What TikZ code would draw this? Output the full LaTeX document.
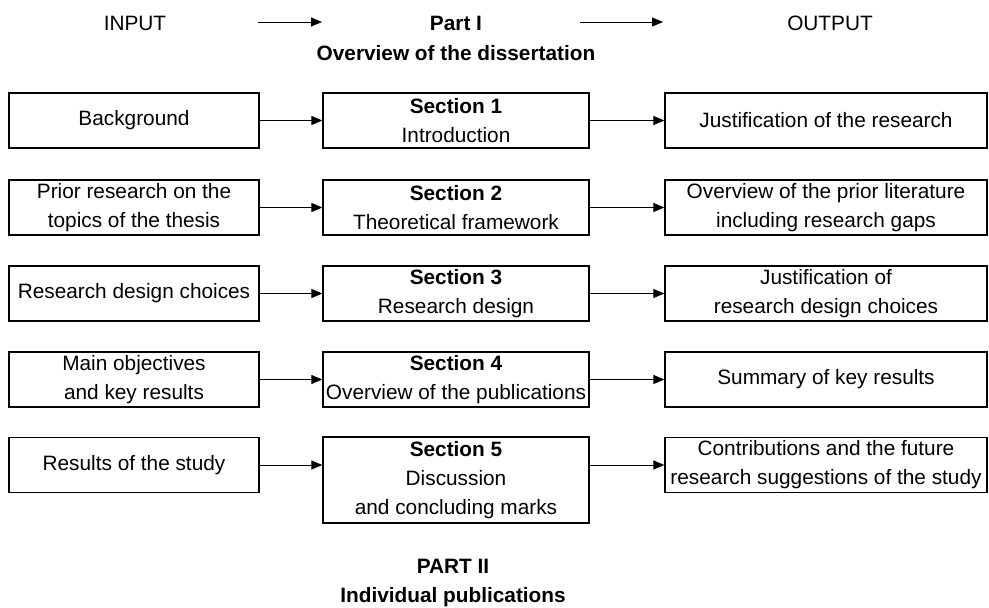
\documentclass[tikz,border=0pt]{standalone}
\usepackage{fontspec}
\setmainfont{Liberation Sans}
\usetikzlibrary{arrows.meta}
\begin{document}
\begin{tikzpicture}[x=1pt,y=-1pt,
 txt/.style={font=\fontsize{20.8}{29}\selectfont, inner sep=0pt, align=center},
 box/.style={txt, draw, line width=1.3pt},
 lbox/.style={box, minimum width=250pt, minimum height=55pt},
 mbox/.style={box, minimum width=266pt, minimum height=55pt},
 rbox/.style={box, minimum width=322pt, minimum height=55pt},
 arr/.style={line width=1pt, -{Triangle[length=11pt,width=9pt]}}
]
\useasboundingbox (0,0) rectangle (989,608);
% header
\node[txt] (inp) at (135,23) {INPUT};
\node[txt] (part1) at (456,23) {\textbf{Part I}};
\node[txt] (over) at (456,53) {\textbf{Overview of the dissertation}};
\node[txt] (outp) at (830,23) {OUTPUT};
\coordinate (ha1) at (258,22);
\coordinate (ha2) at (322,22);
\coordinate (hb1) at (580,22);
\coordinate (hb2) at (663,22);
\draw[arr] (ha1) -- (ha2);
\draw[arr] (hb1) -- (hb2);
% row 1
\node[lbox] (l1) at (134,120.5) {Background};
\node[mbox] (m1) at (456,120.5) {\textbf{Section 1}\\Introduction};
\node[rbox] (r1) at (826,120.5) {Justification of the research};
% row 2
\node[lbox] (l2) at (134,207.5) {Prior research on the\\topics of the thesis};
\node[mbox] (m2) at (456,207.5) {\textbf{Section 2}\\Theoretical framework};
\node[rbox] (r2) at (826,207.5) {Overview of the prior literature\\including research gaps};
% row 3
\node[lbox] (l3) at (134,293.5) {Research design choices};
\node[mbox] (m3) at (456,293.5) {\textbf{Section 3}\\Research design};
\node[rbox] (r3) at (826,293.5) {Justification of\\research design choices};
% row 4
\node[lbox] (l4) at (134,379.5) {Main objectives\\and key results};
\node[mbox] (m4) at (456,379.5) {\textbf{Section 4}\\Overview of the publications};
\node[rbox] (r4) at (826,379.5) {Summary of key results};
% row 5
\node[lbox] (l5) at (134,465) {Results of the study};
\node[mbox, minimum height=86pt] (m5) at (456,480) {\textbf{Section 5}\\Discussion\\and concluding marks};
\node[rbox] (r5) at (826,465) {Contributions and the future\\research suggestions of the study};
% bottom
\node[txt] (p2) at (453,583) {\textbf{PART II}\\\textbf{Individual publications}};
% arrows
\draw[arr] (l1.east) -- (m1.west |- l1.east);
\draw[arr] (m1.east) -- (r1.west |- m1.east);
\draw[arr] (l2.east) -- (m2.west |- l2.east);
\draw[arr] (m2.east) -- (r2.west |- m2.east);
\draw[arr] (l3.east) -- (m3.west |- l3.east);
\draw[arr] (m3.east) -- (r3.west |- m3.east);
\draw[arr] (l4.east) -- (m4.west |- l4.east);
\draw[arr] (m4.east) -- (r4.west |- m4.east);
\draw[arr] (l5.east) -- (m5.west |- l5.east);
\draw[arr] (m5.east |- r5.west) -- (r5.west);
\end{tikzpicture}
\end{document}
